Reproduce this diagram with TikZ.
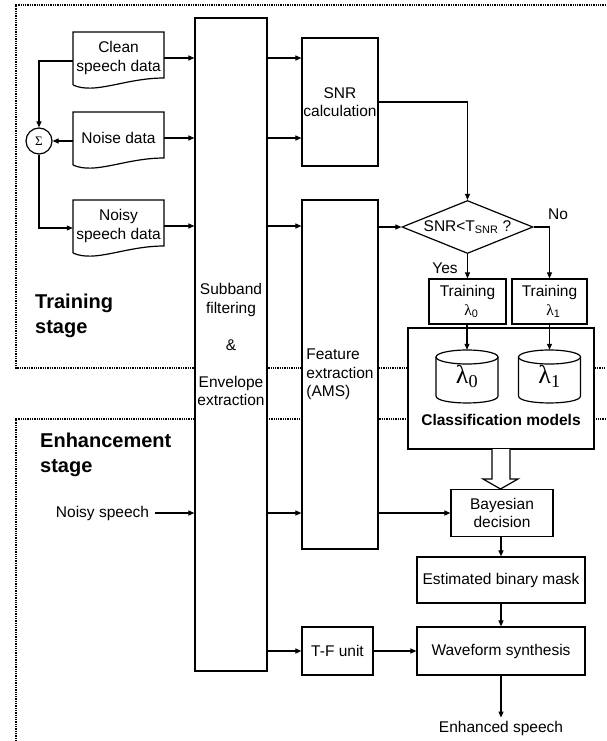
\documentclass[tikz,border=0pt]{standalone}
\usepackage{fontspec}
\setmainfont{Liberation Sans}
\newfontfamily\grk{Liberation Serif}
\usetikzlibrary{arrows.meta,shapes.geometric,calc}
\newcommand\myfs{\fontsize{15.5}{18.5}\selectfont}
\begin{document}
\begin{tikzpicture}[x=1pt,y=-1pt,
  box/.style={draw, line width=1.2pt, fill=white, inner sep=1pt, align=center, font=\myfs},
  ghost/.style={inner sep=1pt, align=center, font=\myfs},
  lbl/.style={inner sep=0pt, font=\myfs},
  arr/.style={-{Triangle[length=6pt,width=5pt]}, line width=1.1pt},
  ln/.style={line width=1.1pt},
  frame/.style={line width=1.3pt, dash pattern=on 1.3pt off 1pt},
  shp/.style={draw, line width=1.2pt, fill=white}]
\useasboundingbox (0,0) rectangle (606,741);
\fill[white] (0,0) rectangle (606,741);

% stage frames
\draw[frame] (606,5) -- (16,5) -- (16,368) -- (606,368);
\draw[frame] (606,419) -- (16,419) -- (16,741);

% stage labels
\node[anchor=west, align=left, inner sep=0pt, font=\bfseries\fontsize{20}{25}\selectfont] (trs) at (35,316) {Training\\stage};
\node[anchor=west, align=left, inner sep=0pt, font=\bfseries\fontsize{20}{25}\selectfont] (ens) at (40,455) {Enhancement\\stage};

% document shapes
\draw[shp] (73,85) -- (73,32) -- (164,32) -- (164,78) .. controls (125,78) and (95,95) .. (73,85);
\draw[shp] (73,165) -- (73,112) -- (164,112) -- (164,158) .. controls (125,158) and (95,175) .. (73,165);
\draw[shp] (73,253) -- (73,200) -- (164,200) -- (164,246) .. controls (125,246) and (95,263) .. (73,253);
\node[ghost, minimum width=91pt, minimum height=52pt] (clean) at (118.5,58) {Clean\\speech data};
\node[ghost, minimum width=91pt, minimum height=52pt] (noise) at (118.5,138) {Noise data};
\node[ghost, minimum width=91pt, minimum height=52pt] (noisy) at (118.5,226) {Noisy\\speech data};

% sum
\node[draw, circle, line width=1.2pt, minimum size=26pt, inner sep=0pt, font=\grk\fontsize{13}{13}\selectfont] (sig) at (39,141) {Σ};

% main boxes
\node[box, minimum width=72pt, minimum height=653pt] (sub) at (231,344.5) {Subband\\filtering\\ \\\&\\ \\Envelope\\extraction};
\node[box, minimum width=76pt, minimum height=128pt] (snr) at (340,102) {SNR\\calculation};
\node[box, minimum width=76pt, minimum height=349pt, align=left] (feat) at (340,374.5) {Feature\\extraction\\(AMS)};
\node[draw, diamond, line width=1.2pt, fill=white, aspect=2.47, inner sep=0pt, minimum width=131pt, minimum height=53pt, font=\myfs] (dec) at (467.5,227) {SNR<T\textsubscript{SNR} ?};
\node[box, minimum width=77pt, minimum height=45pt] (t0) at (467.5,301.5) {Training\\\hspace*{0.5em}{\grk λ}\textsubscript{0}};
\node[box, minimum width=75pt, minimum height=45pt] (t1) at (549.5,301.5) {Training\\\hspace*{0.5em}{\grk λ}\textsubscript{1}};
\node[box, minimum width=186pt, minimum height=121pt] (cls) at (501,388.5) {};
\node[lbl, font=\bfseries\myfs] (clsl) at (501,420) {Classification models};

% cylinders
\draw[shp] (436,357) -- (436,396) .. controls (436,405.3) and (498,405.3) .. (498,396) -- (498,357);
\draw[shp] (467,357) ellipse [x radius=31, y radius=7];
\draw[shp] (518.5,357) -- (518.5,396) .. controls (518.5,405.3) and (580.5,405.3) .. (580.5,396) -- (580.5,357);
\draw[shp] (549.5,357) ellipse [x radius=31, y radius=7];
\node[inner sep=0pt, minimum width=62pt, minimum height=53pt, font=\grk\fontsize{26}{26}\selectfont] (c0) at (467,376.5) {λ\textsubscript{0}};
\node[inner sep=0pt, minimum width=62pt, minimum height=53pt, font=\grk\fontsize{26}{26}\selectfont] (c1) at (549.5,376.5) {λ\textsubscript{1}};

% hollow arrow
\draw[shp] (492,449) -- (492,479) -- (483,479) -- (500.5,489) -- (518,479) -- (510,479) -- (510,449);

\node[box, minimum width=102pt, minimum height=47pt] (bay) at (502,513) {Bayesian\\decision};
\node[box, minimum width=168pt, minimum height=46pt] (mask) at (501,580) {Estimated binary mask};
\node[box, minimum width=168pt, minimum height=48pt] (wav) at (501,651) {Waveform synthesis};
\node[box, minimum width=71pt, minimum height=48pt] (tf) at (337.5,651) {T-F unit};
\node[lbl] (nin) at (102.5,513) {Noisy speech};
\node[lbl] (enh) at (501,728) {Enhanced speech};
\node[lbl] (yes) at (445,268) {Yes};
\node[lbl] (no) at (558,214) {No};

% connectors: sources
\draw[arr] ([yshift=-3pt]clean.west) -| (sig.north);
\draw[arr] (noise.west |- sig) -- (sig.east);
\draw[arr] (sig.south) |- ([yshift=-2pt]noisy.west);
\draw[arr] (clean.east) -- (clean.east -| sub.west);
\draw[arr] (noise.east) -- (noise.east -| sub.west);
\draw[arr] (noisy.east) -- (noisy.east -| sub.west);
\draw[arr, shorten <=6pt] (nin.east) -- (nin.east -| sub.west);

% subband outputs
\draw[arr] (clean.east -| sub.east) -- (clean.east -| snr.west);
\draw[arr] (noise.east -| sub.east) -- (noise.east -| snr.west);
\draw[arr] (noisy.east -| sub.east) -- (noisy.east -| feat.west);
\draw[arr] (bay.west -| sub.east) -- (bay.west -| feat.west);
\draw[arr] (tf.west -| sub.east) -- (tf.west);

% training path
\draw[arr] (snr.east) -| (dec.north);
\draw[arr] (feat.east |- dec.west) -- (dec.west);
\draw[arr] (dec.south) -- (dec.south |- t0.north);
\draw[arr] (dec.east) -| (t1.north);
\draw[arr] (t0.south -| c0.north) -- (c0.north);
\draw[arr] (t1.south -| c1.north) -- (c1.north);

% enhancement path
\draw[arr] (feat.east |- bay.west) -- (bay.west);
\draw[arr] (bay.south -| mask.north) -- (mask.north);
\draw[arr] (mask.south) -- (wav.north);
\draw[arr] (tf.east) -- (wav.west);
\draw[arr] (wav.south) -- ([yshift=3pt]enh.north);
\end{tikzpicture}
\end{document}
